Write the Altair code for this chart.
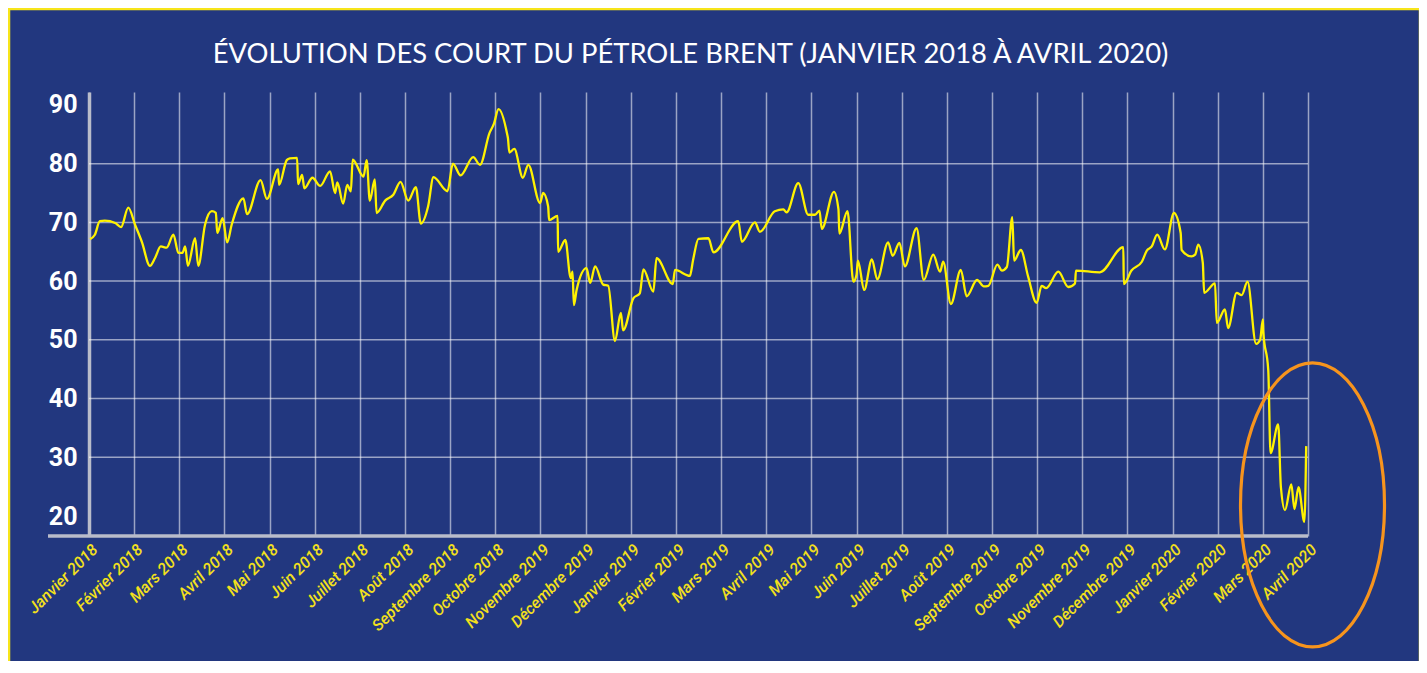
import altair as alt
import pandas as pd

# ---- data (month index from Jan 2018 = 0, Brent price in $) ----
months = [
    0.02, 0.13, 0.24, 0.35, 0.58, 0.71, 0.87, 1.02, 1.17, 1.35,
    1.46, 1.59, 1.72, 1.87, 1.98, 2.07, 2.13, 2.19, 2.35, 2.42,
    2.57, 2.72, 2.81, 2.84, 2.96, 3.06, 3.16, 3.42, 3.50, 3.80,
    3.94, 4.19, 4.21, 4.38, 4.45, 4.61, 4.63, 4.72, 4.77, 4.95,
    5.12, 5.34, 5.45, 5.50, 5.63, 5.72, 5.80, 5.84, 6.08, 6.15,
    6.22, 6.33, 6.37, 6.56, 6.74, 6.90, 7.07, 7.24, 7.35, 7.51,
    7.63, 7.94, 8.06, 8.23, 8.51, 8.66, 8.87, 8.97, 9.07, 9.26,
    9.28, 9.31, 9.42, 9.61, 9.73, 9.99, 10.06, 10.17, 10.19, 10.38,
    10.39, 10.55, 10.67, 10.71, 10.74, 10.80, 11.02, 11.10, 11.21, 11.39,
    11.50, 11.65, 11.78, 11.83, 12.06, 12.20, 12.28, 12.50, 12.57, 12.93,
    12.98, 13.31, 13.38, 13.50, 13.72, 13.83, 14.38, 14.46, 14.75, 14.86,
    15.19, 15.38, 15.45, 15.71, 15.93, 16.08, 16.18, 16.23, 16.50, 16.60,
    16.62, 16.80, 16.93, 17.00, 17.03, 17.17, 17.34, 17.46, 17.70, 17.80,
    17.95, 18.07, 18.33, 18.49, 18.70, 18.85, 18.92, 19.09, 19.31, 19.44,
    19.67, 19.82, 19.92, 20.12, 20.22, 20.33, 20.45, 20.49, 20.64, 20.80,
    20.99, 21.10, 21.20, 21.47, 21.69, 21.84, 21.86, 22.39, 22.91, 22.92,
    23.09, 23.32, 23.43, 23.54, 23.66, 23.83, 24.03, 24.18, 24.20, 24.42,
    24.50, 24.57, 24.67, 24.70, 24.94, 24.98, 25.16, 25.23, 25.42, 25.53,
    25.66, 25.85, 25.94, 26.00, 26.01, 26.12, 26.17, 26.34, 26.40, 26.49,
    26.63, 26.70, 26.79, 26.92, 26.96,
]
prices = [
    67.15, 67.9, 70.2, 70.3, 69.9, 69.2, 72.5, 69.6, 66.7, 62.6,
    63.9, 65.9, 65.7, 67.9, 64.8, 64.8, 65.9, 62.6, 67.3, 62.6,
    69.6, 71.9, 71.6, 68.2, 70.7, 66.6, 69.6, 74.1, 71.4, 77.2,
    74.0, 79.0, 76.4, 80.6, 80.9, 81.0, 76.5, 78.1, 75.8, 77.6,
    76.2, 78.7, 75.0, 76.8, 73.2, 76.4, 75.3, 80.7, 77.8, 80.6,
    73.7, 77.3, 71.6, 73.7, 74.7, 76.9, 73.7, 76.0, 69.8, 72.7,
    77.7, 75.3, 80.0, 78.0, 81.1, 79.8, 85.2, 86.8, 89.3, 85.1,
    84.3, 81.9, 82.5, 77.6, 79.8, 73.3, 75.0, 72.7, 70.4, 71.1,
    65.0, 67.0, 60.5, 61.6, 55.9, 58.5, 62.2, 59.7, 62.5, 59.4,
    59.2, 49.8, 54.6, 51.6, 57.1, 57.9, 62.0, 58.2, 63.9, 59.5,
    61.9, 60.9, 63.6, 67.2, 67.3, 64.9, 70.2, 66.7, 70.0, 68.4,
    71.9, 72.2, 71.7, 76.7, 71.3, 71.3, 72.0, 68.9, 75.2, 72.2,
    68.1, 71.9, 59.9, 61.1, 63.5, 58.5, 63.7, 60.3, 66.6, 64.3,
    66.5, 62.5, 69.0, 60.2, 64.5, 61.6, 63.3, 56.1, 61.9, 57.4,
    60.2, 59.1, 59.2, 62.8, 61.8, 62.4, 70.9, 63.5, 65.3, 60.8,
    56.3, 59.2, 58.8, 61.6, 59.0, 59.6, 61.8, 61.5, 65.8, 59.5,
    61.8, 63.3, 65.2, 65.9, 67.9, 65.4, 71.6, 68.2, 65.3, 64.2,
    64.5, 66.2, 63.1, 58.0, 59.6, 52.9, 55.2, 52.0, 58.0, 57.6,
    59.9, 49.3, 50.0, 53.5, 51.4, 44.8, 30.7, 35.6, 24.9, 21.0,
    25.4, 21.2, 24.9, 19.0, 31.9,
]

month_labels = [
    "Janvier 2018", "Février 2018", "Mars 2018", "Avril 2018", "Mai 2018",
    "Juin 2018", "Juillet 2018", "Août 2018", "Septembre 2018", "Octobre 2018",
    "Novembre 2019", "Décembre 2019", "Janvier 2019", "Février 2019", "Mars 2019",
    "Avril 2019", "Mai 2019", "Juin 2019", "Juillet 2019", "Août 2019",
    "Septembre 2019", "Octobre 2019", "Novembre 2019", "Décembre 2019",
    "Janvier 2020", "Février 2020", "Mars 2020", "Avril 2020",
]
y_ticks = [20, 30, 40, 50, 60, 70, 80, 90]
h_grid = [30, 40, 50, 60, 70, 80]
highlight_center = {"m": 27.1, "p": 21.9}

TITLE = "ÉVOLUTION DES COURT DU PÉTROLE BRENT (JANVIER 2018 À AVRIL 2020)"

BG = "#22377f"
LINE_YELLOW = "#fff200"
LABEL_YELLOW = "#f3e01c"
BORDER_YELLOW = "#f7e51a"
ORANGE = "#f7941d"
AXIS_GRAY = "#b9bcca"
NARROW = "Roboto, 'DejaVu Sans', sans-serif"

W, H = 1219, 444

df = pd.DataFrame({"m": months, "p": prices})
grid_df = pd.DataFrame({"v": h_grid})
one = pd.DataFrame({"k": [0]})
title_df = pd.DataFrame({"t": [TITLE]})
hl_df = pd.DataFrame([highlight_center])

label_expr = "[" + ",".join("'" + s + "'" for s in month_labels) + "][datum.value]"

x_scale = alt.Scale(domain=[0, 27], nice=False, zero=False)
y_scale = alt.Scale(domain=[16.6, 92.2], nice=False, zero=False)

border = alt.Chart(one).mark_rect(
    filled=False, stroke=BORDER_YELLOW, strokeWidth=2.5, clip=False
).encode(
    x=alt.value(-80), x2=alt.value(1331), y=alt.value(-83), y2=alt.value(700)
)

title_text = alt.Chart(title_df).mark_text(
    font="Lato", fontSize=27.4, color="#ffffff", align="center",
    baseline="alphabetic", clip=False,
).encode(text="t:N", x=alt.value(W / 2 - 8), y=alt.value(-29))

hgrid = alt.Chart(grid_df).mark_rule(
    color="#ffffff", opacity=0.55, strokeWidth=1.5
).encode(y=alt.Y("v:Q", scale=y_scale))

xaxis_line = alt.Chart(one).mark_rule(
    color=AXIS_GRAY, strokeWidth=3.5, clip=False
).encode(x=alt.value(-41), x2=alt.value(W), y=alt.value(H))

line = alt.Chart(df).mark_line(
    color=LINE_YELLOW, strokeWidth=2.3, interpolate="monotone"
).encode(
    x=alt.X(
        "m:Q",
        scale=x_scale,
        axis=alt.Axis(
            values=list(range(28)),
            labelExpr=label_expr,
            title=None,
            grid=True,
            gridColor="#ffffff",
            gridOpacity=0.55,
            gridWidth=1.5,
            domain=False,
            ticks=False,
            labelAngle=-45,
            labelAlign="right",
            labelBaseline="top",
            labelColor=LABEL_YELLOW,
            labelFont=NARROW,
            labelFontStyle="italic",
            labelFontWeight=500,
            labelFontSize=16,
            labelPadding=5,
            labelFlush=False,
            labelOverlap=False,
            labelBound=False,
        ),
    ),
    y=alt.Y(
        "p:Q",
        scale=y_scale,
        axis=alt.Axis(
            values=y_ticks,
            title=None,
            grid=False,
            domain=True,
            domainColor=AXIS_GRAY,
            domainWidth=3.5,
            ticks=False,
            labelColor="#ffffff",
            labelFont=NARROW,
            labelFontWeight="bold",
            labelFontSize=25,
            labelPadding=12,
            labelFlush=False,
            labelOverlap=False,
        ),
    ),
)

ellipse = alt.Chart(hl_df).mark_point(
    shape="M0,-1A0.507,1,0,1,1,0,1A0.507,1,0,1,1,0,-1Z",
    filled=False,
    stroke=ORANGE,
    strokeWidth=3.2,
    size=80656,
    opacity=1,
    clip=False,
).encode(
    x=alt.X("m:Q", scale=x_scale),
    y=alt.Y("p:Q", scale=y_scale),
)

chart = (
    alt.layer(border, title_text, hgrid, xaxis_line, line, ellipse)
    .properties(
        width=W,
        height=H,
        autosize=alt.AutoSizeParams(type="none"),
        padding={"left": 81, "top": 84, "right": 111, "bottom": 125},
    )
    .configure(background=BG)
    .configure_view(stroke=None)
)

chart.save("out.html", embed_options={"renderer": "svg", "actions": False})
